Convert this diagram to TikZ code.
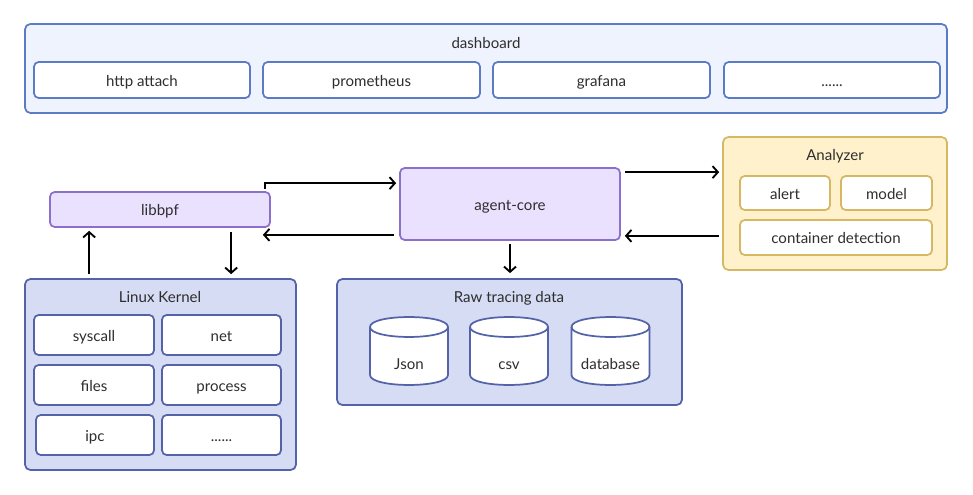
\documentclass[tikz,border=0pt]{standalone}
\usepackage{fontspec}
\setmainfont{Lato}
\usetikzlibrary{calc,arrows.meta}
\definecolor{txt}{HTML}{2E2E2E}
\definecolor{dashfill}{HTML}{EEF3FD}
\definecolor{dashline}{HTML}{5B7BC7}
\definecolor{purfill}{HTML}{E9E1FD}
\definecolor{purline}{HTML}{8C6FCC}
\definecolor{kerfill}{HTML}{D5DCF3}
\definecolor{kerline}{HTML}{5462A8}
\definecolor{anafill}{HTML}{FEF1CC}
\definecolor{analine}{HTML}{D7B862}
\tikzset{
  base/.style={rounded corners=3.5pt, line width=1.3pt, text=txt, font=\fontsize{11.3}{13}\selectfont, inner sep=0pt, text height=10pt, text depth=0.3pt},
  outerbox/.style={base, rounded corners=4pt},
  dashouter/.style={outerbox, draw=dashline, fill=dashfill},
  dashitem/.style={base, draw=dashline, fill=white},
  purbox/.style={base, draw=purline, fill=purfill},
  kerouter/.style={outerbox, draw=kerline, fill=kerfill},
  keritem/.style={base, draw=kerline, fill=white},
  anaouter/.style={outerbox, draw=analine, fill=anafill},
  anaitem/.style={base, draw=analine, fill=white},
  titletext/.style={text=txt, font=\fontsize{11.3}{13}\selectfont, inner sep=0pt, text height=10pt, text depth=0.3pt},
  conn/.style={line width=1.4pt, black, -{Straight Barb[length=4pt,width=9pt,line width=1.4pt]}},
}
\begin{document}
\begin{tikzpicture}[x=0.75pt,y=-0.75pt]
\useasboundingbox (0,0) rectangle (973,495);
% dashboard
\node[dashouter, minimum width=922*0.75pt, minimum height=89*0.75pt] (dash) at (486,68.5) {};
\node[titletext] (dasht) at (486,42) {dashboard};
\node[dashitem, minimum width=216*0.75pt, minimum height=36*0.75pt] (http) at (142,80) {http attach};
\node[dashitem, minimum width=217*0.75pt, minimum height=36*0.75pt] (prom) at (371.5,80) {prometheus};
\node[dashitem, minimum width=217*0.75pt, minimum height=36*0.75pt] (graf) at (601.5,80) {grafana};
\node[dashitem, minimum width=216*0.75pt, minimum height=36*0.75pt] (ddots) at (832,80) {......};
% libbpf and agent-core
\node[purbox, minimum width=220*0.75pt, minimum height=35*0.75pt] (libbpf) at (160,209.5) {libbpf};
\node[purbox, minimum width=220*0.75pt, minimum height=72*0.75pt] (agent) at (510,204) {agent-core};
% Analyzer
\node[anaouter, minimum width=224*0.75pt, minimum height=133*0.75pt] (ana) at (835,203.5) {};
\node[titletext] (anat) at (835,154) {Analyzer};
\node[anaitem, minimum width=90*0.75pt, minimum height=34*0.75pt] (alert) at (785,193) {alert};
\node[anaitem, minimum width=91*0.75pt, minimum height=34*0.75pt] (model) at (886.5,193) {model};
\node[anaitem, minimum width=192*0.75pt, minimum height=35*0.75pt] (cont) at (836,237.5) {container detection};
% Linux Kernel
\node[kerouter, minimum width=271*0.75pt, minimum height=191*0.75pt] (ker) at (160.5,374.5) {};
\node[titletext] (kert) at (160,296) {Linux Kernel};
\node[keritem, minimum width=120*0.75pt, minimum height=40*0.75pt] (sys) at (94,335) {syscall};
\node[keritem, minimum width=119*0.75pt, minimum height=40*0.75pt] (net) at (221.5,335) {net};
\node[keritem, minimum width=120*0.75pt, minimum height=40*0.75pt] (files) at (94,385) {files};
\node[keritem, minimum width=119*0.75pt, minimum height=40*0.75pt] (proc) at (221.5,385) {process};
\node[keritem, minimum width=118*0.75pt, minimum height=40*0.75pt] (ipc) at (95,435) {ipc};
\node[keritem, minimum width=119*0.75pt, minimum height=40*0.75pt] (kdots) at (221.5,435) {......};
% Raw tracing data
\node[kerouter, minimum width=345*0.75pt, minimum height=126*0.75pt] (raw) at (509.5,342) {};
\node[titletext] (rawt) at (509,296) {Raw tracing data};
\foreach \cx/\nm/\lab in {409/json/Json, 509/csv/csv, 610.5/db/database}{
  \pgfmathsetmacro{\xa}{\cx-39}
  \pgfmathsetmacro{\xb}{\cx+39}
  \path[fill=white, draw=kerline, line width=1.3pt]
    (\xa,327) -- (\xa,375) .. controls (\xa,388.3) and (\xb,388.3) .. (\xb,375)
    -- (\xb,327) .. controls (\xb,313.7) and (\xa,313.7) .. (\xa,327) -- cycle;
  \draw[kerline, line width=1.3pt] (\xa,327) .. controls (\xa,340.3) and (\xb,340.3) .. (\xb,327);
  \node[titletext] (\nm) at (\cx,363) {\lab};
}
% connectors
\draw[conn] ($(libbpf.north east)+(-6,-2)$) -- ($(libbpf.north east)+(-6,-8)$) -- ($(agent.north west)+(-3,16)$);
\draw[conn] ($(agent.south west)+(-5,-6)$) -- ($(libbpf.south east)+(-8,7)$);
\draw[conn] ($(ker.north west)+(65,-4)$) -- ($(libbpf.south west)+(40,3)$);
\draw[conn] ($(libbpf.south west)+(182,4)$) -- ($(ker.north west)+(207,-4)$);
\draw[conn] ($(agent.north east)+(4,5)$) -- ($(ana.north west)+(-3,36)$);
\draw[conn] ($(ana.south west)+(-3,-35)$) -- ($(agent.south east)+(4,-5)$);
\draw[conn] ($(agent.south)+(0,3)$) -- ($(raw.north)+(0.5,-5)$);
\end{tikzpicture}
\end{document}
